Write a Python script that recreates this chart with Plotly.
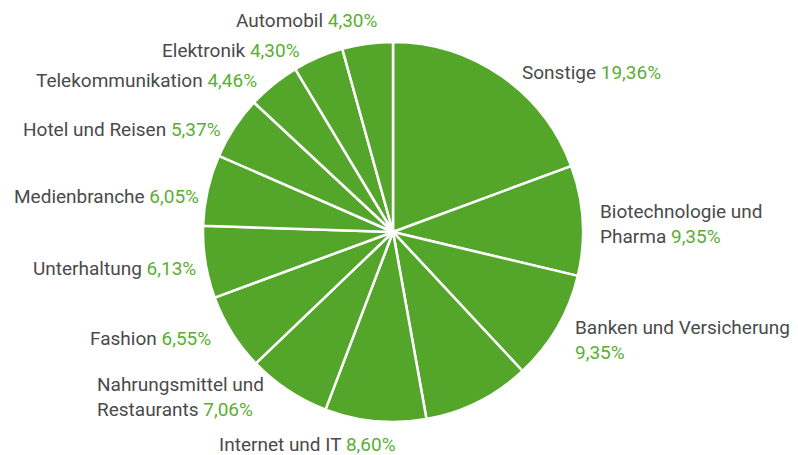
import plotly.graph_objects as go

categories = ["Sonstige", "Biotechnologie und Pharma", "Banken und Versicherung", "",
              "Internet und IT", "Nahrungsmittel und Restaurants", "Fashion", "Unterhaltung",
              "Medienbranche", "Hotel und Reisen", "Telekommunikation", "Elektronik", "Automobil"]
values = [19.36, 9.35, 9.35, 9.12, 8.60, 7.06, 6.55, 6.13, 6.05, 5.37, 4.46, 4.30, 4.30]
label_lines = ["Sonstige", "Biotechnologie und<br>Pharma", "Banken und Versicherung<br>", "",
               "Internet und IT", "Nahrungsmittel und<br>Restaurants", "Fashion", "Unterhaltung",
               "Medienbranche", "Hotel und Reisen", "Telekommunikation", "Elektronik", "Automobil"]
pct_text = ["19,36%", "9,35%", "9,35%", "", "8,60%", "7,06%", "6,55%", "6,13%",
            "6,05%", "5,37%", "4,46%", "4,30%", "4,30%"]

W, H = 798, 455
OFF = 8  # page offset of the plot inside the browser window
GREEN = "#54a62a"
TXT = "#4a4a4a"
PCT = "#5aaf32"

# label placement (window pixel x, pixel y, xanchor)
label_pos = [(520, 73, "left"), (598, 224, "left"), (573, 340, "left"), None,
             (307, 444, "center"), (95, 397, "left"), (213, 338, "right"), (198, 268, "right"),
             (201, 196, "right"), (223, 130, "right"), (259, 80, "right"), (302, 50, "right"),
             (307, 20, "center")]


def px(x):
    return (x - OFF) / W


def py(y):
    return 1 - (y - OFF) / H


cx, cy, r = 393, 232, 190
fig = go.Figure(go.Pie(
    labels=[c if c else "n/a" for c in categories],
    values=values,
    sort=False,
    direction="clockwise",
    rotation=0,
    textinfo="none",
    hoverinfo="label+value",
    marker=dict(colors=[GREEN] * len(values), line=dict(color="white", width=2.5)),
    domain=dict(x=[px(cx - r), px(cx + r)], y=[py(cy + r), py(cy - r)]),
))

annotations = []
for name, pct, pos in zip(label_lines, pct_text, label_pos):
    if pos is None:
        continue
    x, y, anchor = pos
    if name.endswith("<br>"):
        text = f"<span style='color:{TXT}'>{name}</span><span style='color:{PCT}'>{pct}</span>"
    else:
        text = f"<span style='color:{TXT}'>{name}</span> <span style='color:{PCT}'>{pct}</span>"
    annotations.append(dict(
        x=px(x), y=py(y), xref="paper", yref="paper", text=text, showarrow=False,
        xanchor=anchor, yanchor="middle", align="left",
        font=dict(family="Roboto, sans-serif", size=19, color=TXT),
    ))

fig.update_layout(
    width=W, height=H, margin=dict(l=0, r=0, t=0, b=0),
    paper_bgcolor="white", plot_bgcolor="white", showlegend=False,
    annotations=annotations,
)
fig.write_html("out.html")
